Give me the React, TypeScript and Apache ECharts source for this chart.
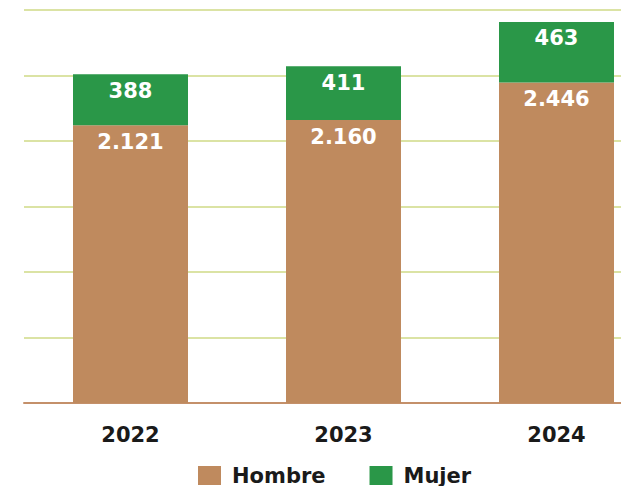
import React, { useEffect, useRef } from "react";
import * as echarts from "echarts";

const categories = ["2022", "2023", "2024"];
const hombre = [2121, 2160, 2446];
const mujer = [388, 411, 463];
const seriesNames = ["Hombre", "Mujer"];

const FONT = "'DejaVu Sans', sans-serif";
const fmt = (v: number) => String(v).replace(/\B(?=(\d{3})+(?!\d))/g, ".");

export default function App() {
  const ref = useRef<HTMLDivElement>(null);
  useEffect(() => {
    if (!ref.current) return;
    const chart = echarts.init(ref.current, undefined, { renderer: "svg" });
    const label = {
      show: true,
      position: "insideTop" as const,
      distance: 6,
      color: "#ffffff",
      fontFamily: FONT,
      fontWeight: "bold" as const,
      fontSize: 21,
      formatter: (p: any) => fmt(p.value),
    };
    chart.setOption({
      animation: false,
      grid: {
        left: 24,
        width: 639,
        top: 10,
        bottom: 83,
        containLabel: false,
        outerBoundsMode: "none",
      },
      legend: {
        left: 193,
        top: 460,
        itemWidth: 23,
        itemHeight: 19,
        itemGap: 44,
        icon: "rect",
        data: seriesNames,
        textStyle: {
          fontFamily: FONT,
          fontWeight: "bold",
          fontSize: 21,
          color: "#1a1a1a",
          padding: [0, 0, 0, 6],
        },
      },
      xAxis: {
        type: "category",
        data: categories,
        axisTick: { show: false },
        axisLine: { lineStyle: { color: "#c4906a", width: 2 } },
        axisLabel: {
          margin: 21,
          color: "#1a1a1a",
          fontFamily: FONT,
          fontWeight: "bold",
          fontSize: 21,
        },
      },
      yAxis: {
        type: "value",
        min: 0,
        max: 3000,
        interval: 500,
        axisLabel: { show: false },
        axisLine: { show: false },
        axisTick: { show: false },
        splitLine: { lineStyle: { color: "#dbe3a4", width: 2 } },
      },
      series: [
        {
          name: seriesNames[0],
          type: "bar",
          stack: "total",
          barWidth: 115,
          data: hombre,
          itemStyle: { color: "#bf8a5e" },
          label,
        },
        {
          name: seriesNames[1],
          type: "bar",
          stack: "total",
          barWidth: 115,
          data: mujer,
          itemStyle: { color: "#2a9748" },
          label,
        },
      ],
    });
    return () => chart.dispose();
  }, []);
  return (
    <div
      ref={ref}
      style={{ position: "absolute", left: 0, top: 0, width: 621, height: 486 }}
    />
  );
}
